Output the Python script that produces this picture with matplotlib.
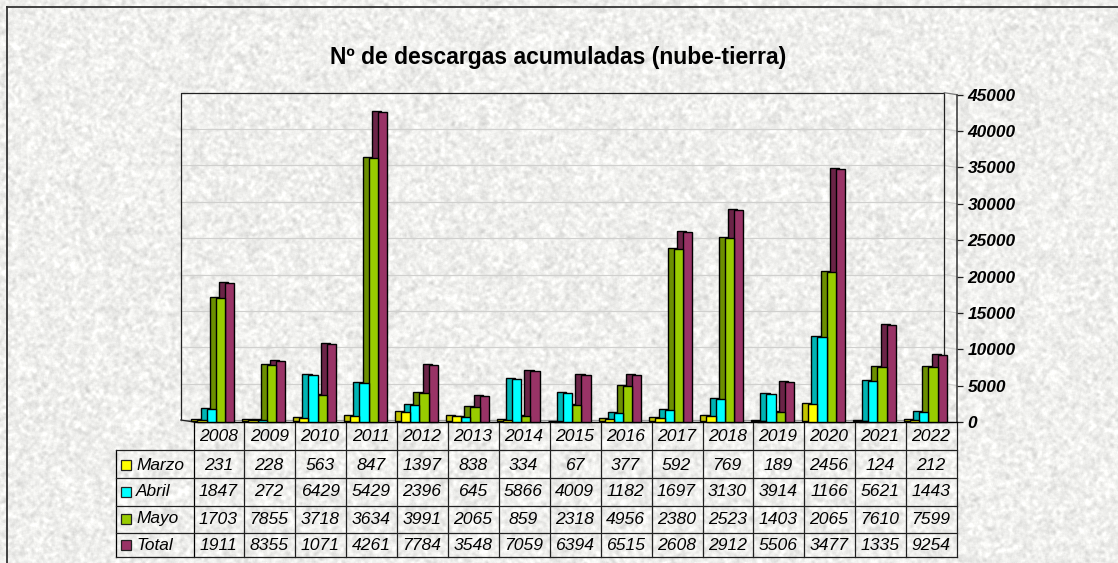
import numpy as np
import matplotlib
matplotlib.use("Agg")
import matplotlib.pyplot as plt
from matplotlib.patches import Rectangle
from matplotlib.transforms import ScaledTranslation

plt.rcParams["font.family"] = ["Liberation Sans", "DejaVu Sans"]

years = ["2008", "2009", "2010", "2011", "2012", "2013", "2014", "2015",
         "2016", "2017", "2018", "2019", "2020", "2021", "2022"]
marzo = [231, 228, 563, 847, 1397, 838, 334, 67, 377, 592, 769, 189, 2456, 124, 212]
abril = [1847, 272, 6429, 5429, 2396, 645, 5866, 4009, 1182, 1697, 3130, 3914, 11660, 5621, 1443]
mayo = [17030, 7855, 3718, 36340, 3991, 2065, 859, 2318, 4956, 23800, 25230, 1403, 20650, 7610, 7599]
total = [19110, 8355, 10710, 42610, 7784, 3548, 7059, 6394, 6515, 26080, 29120, 5506, 34770, 13350, 9254]

# the table in the original cuts off the last digit of the 5 figure values
marzo_labels = ["231", "228", "563", "847", "1397", "838", "334", "67", "377", "592", "769", "189", "2456", "124", "212"]
abril_labels = ["1847", "272", "6429", "5429", "2396", "645", "5866", "4009", "1182", "1697", "3130", "3914", "1166", "5621", "1443"]
mayo_labels = ["1703", "7855", "3718", "3634", "3991", "2065", "859", "2318", "4956", "2380", "2523", "1403", "2065", "7610", "7599"]
total_labels = ["1911", "8355", "1071", "4261", "7784", "3548", "7059", "6394", "6515", "2608", "2912", "5506", "3477", "1335", "9254"]

series_names = ["Marzo", "Abril", "Mayo", "Total"]
series_values = [marzo, abril, mayo, total]
series_labels = [marzo_labels, abril_labels, mayo_labels, total_labels]
front_colors = ["#ffff00", "#00ffff", "#99cc00", "#993366"]
side_colors = ["#c4c400", "#00b4b4", "#6c8f00", "#6b2447"]
y_ticks = [0, 5000, 10000, 15000, 20000, 25000, 30000, 35000, 40000, 45000]

W, H = 1118, 563
DPI = 100
PLOT_L, PLOT_R, PLOT_T, PLOT_B = 193.6, 957.0, 94.7, 422.0


def blur(img, size):
    out = np.zeros_like(img)
    for dx in range(-size, size + 1):
        for dy in range(-size, size + 1):
            out += np.roll(np.roll(img, dx, axis=1), dy, axis=0)
    return out / out.std()


def paper_texture():
    # speckled grey paper look of the chart area
    rng = np.random.default_rng(7)
    noise = rng.normal(0, 1, (H, W))
    spots = 0.7 * blur(noise, 1) + 0.7 * blur(noise, 2)
    grey = 0.94 + 0.024 * spots
    return np.clip(np.dstack([grey, grey, grey * 0.99]), 0, 1)


fig = plt.figure(figsize=(W / DPI, H / DPI), dpi=DPI)

# whole picture axes in pixels for paper, title and table
bg = fig.add_axes([0, 0, 1, 1], zorder=0)
bg.set_xlim(0, W)
bg.set_ylim(H, 0)
bg.axis("off")
bg.imshow(paper_texture(), extent=(0, W, H, 0), aspect="auto", interpolation="bilinear")
bg.plot([7, 7], [6.5, H], color="#333333", lw=1.3)
bg.plot([7, W], [6.5, 6.5], color="#333333", lw=1.3)
bg.text(558, 57.5, "Nº de descargas acumuladas (nube-tierra)", ha="center", va="center",
        fontsize=16.45, fontweight="bold", color="black")

# table
col_w = (PLOT_R - PLOT_L) / len(years)
row_edges = [422, 450, 478, 505.7, 532.7, 557]
row_mid = [436.5, 465, 492, 519, 545]
line_c = "#222222"
for i in range(len(years) + 1):
    x = PLOT_L + i * col_w
    bg.plot([x, x], [row_edges[0], row_edges[-1]], color=line_c if i else "black", lw=0.9)
bg.plot([115.7, 115.7], [row_edges[1], row_edges[-1]], color="black", lw=0.9)
for y in row_edges[1:]:
    bg.plot([115.7, PLOT_R], [y, y], color=line_c, lw=0.9)
for i, year in enumerate(years):
    bg.text(PLOT_L + (i + 0.5) * col_w - 0.8, row_mid[0], year, ha="center", va="center",
            fontsize=12.6, fontstyle="italic")
for j, name in enumerate(series_names):
    ym = row_mid[j + 1]
    bg.add_patch(Rectangle((120.5, ym - 5), 10, 10, facecolor=front_colors[j], edgecolor="#222222", lw=0.9))
    bg.text(136, ym, name, ha="left", va="center", fontsize=12.4, fontstyle="italic")
    for i, label in enumerate(series_labels[j]):
        bg.text(PLOT_L + (i + 0.5) * col_w - 0.8, ym, label, ha="center", va="center",
                fontsize=12.6, fontstyle="italic")

# bars
ax = fig.add_axes([PLOT_L / W, 1 - PLOT_B / H, (PLOT_R - PLOT_L) / W, (PLOT_B - PLOT_T) / H], zorder=1)
ax.patch.set_visible(False)
ax.set_xlim(-0.5, 14.5)
ax.set_ylim(0, 45000)


def px_shift(dx, dy):
    return ax.transData + ScaledTranslation(dx / DPI, dy / DPI, fig.dpi_scale_trans)


back = px_shift(-12.7, 2)
for value in y_ticks[1:-1]:
    ax.plot([-0.5, 14.5], [value, value], color="#d0d0ce", lw=0.9, transform=back, clip_on=False, zorder=1)
    ax.plot([14.5, 14.5 + 12.7 / col_w], [value, value - 2 / 328 * 45000], color="#d0d0ce", lw=0.9,
            transform=back, clip_on=False, zorder=1)
ax.plot([-0.5, -0.5, 14.5, 14.5], [0, 45000, 45000, 0], color="#222222", lw=0.9, transform=back,
        clip_on=False, zorder=1)
ax.plot([-0.5, 14.5], [0, 0], color="#999999", lw=0.9, transform=back, clip_on=False, zorder=1)
ax.plot([-0.5, -0.5 + 12.7 / col_w], [0, 0 - 2 / 328 * 45000], color="#222222", lw=0.9, transform=back, clip_on=False, zorder=1)
ax.plot([14.5, 14.5 + 12.7 / col_w], [45000, 45000 - 2 / 328 * 45000], color="#777777", lw=0.9,
        transform=back, clip_on=False, zorder=1)

x = np.arange(len(years))
bar_w = 9.2 / col_w
group_shift = 3.2 / col_w
side = px_shift(-6, 1)
# drawn right to left so that each front face covers the next side face
for j in range(3, -1, -1):
    pos = x + (j - 1.5) * bar_w - group_shift
    ax.bar(pos, series_values[j], bar_w, color=side_colors[j], edgecolor="black", lw=1.0,
           transform=side, zorder=2 + (3 - j) * 2, clip_on=False)
    ax.bar(pos, series_values[j], bar_w, color=front_colors[j], edgecolor="black", lw=1.0,
           zorder=3 + (3 - j) * 2, clip_on=False)

ax.set_xticks([])
ax.yaxis.tick_right()
ax.set_yticks(y_ticks)
ax.set_yticklabels([str(v) for v in y_ticks], fontsize=12.4, fontweight="bold", fontstyle="italic")
ax.tick_params(axis="y", length=4.5, width=0.9, color="#222222", pad=3)
for name in ("left", "top"):
    ax.spines[name].set_visible(False)
ax.spines["right"].set_color("#333333")
ax.spines["bottom"].set_color("black")
ax.spines["right"].set_linewidth(1.1)
ax.spines["bottom"].set_linewidth(1.0)

fig.savefig("out.png", dpi=DPI)
